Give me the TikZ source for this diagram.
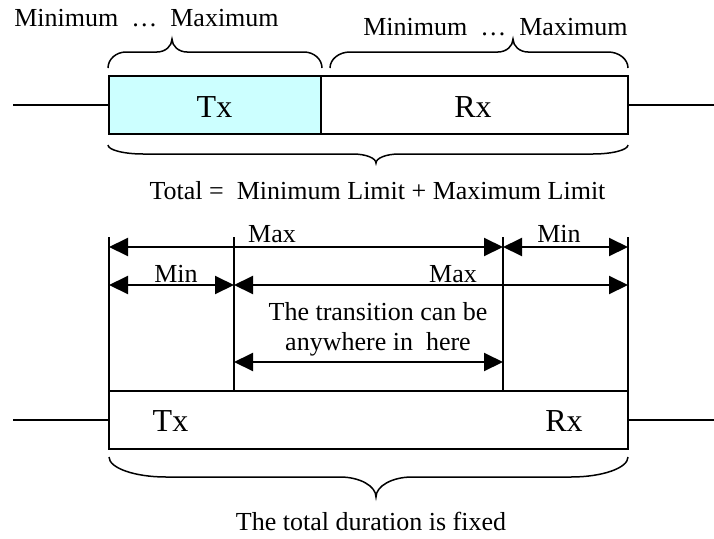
\documentclass[tikz,border=0pt]{standalone}
\usepackage{fontspec}
\setmainfont{Liberation Serif}
\usetikzlibrary{arrows.meta}
\definecolor{txcyan}{RGB}{204,255,255}

% Curly brace with rounded end hooks: xa, xtip, xb, y(ends), y(flat), y(tip), end radius, tip radius
\newcommand{\wordbrace}[8]{%
  \draw[bracestyle] (#1,#4)
    .. controls (#1,{#4+0.55*(#5-#4)}) and ({#1+0.45*#7},#5) .. ({#1+#7},#5)
    -- ({#2-#8},#5)
    .. controls ({#2-0.45*#8},#5) and (#2,{#6+0.55*(#5-#6)}) .. (#2,#6)
    .. controls (#2,{#6+0.55*(#5-#6)}) and ({#2+0.45*#8},#5) .. ({#2+#8},#5)
    -- ({#3-#7},#5)
    .. controls ({#3-0.45*#7},#5) and (#3,{#4+0.55*(#5-#4)}) .. (#3,#4);}

\tikzset{
  box/.style={draw, line width=2pt, inner sep=0pt, outer sep=0pt},
  wire/.style={line width=1.6pt},
  bracestyle/.style={line width=1.5pt},
  mark line/.style={line width=2pt},
  dim/.style={line width=2pt,
    {Triangle[length=19pt,width=18pt]}-{Triangle[length=19pt,width=18pt]}},
  lbl/.style={font=\fontsize{26pt}{30pt}\selectfont, inner sep=0pt, anchor=base},
  slot/.style={font=\fontsize{32pt}{36pt}\selectfont, inner sep=0pt, anchor=base},
}

\begin{document}
\begin{tikzpicture}[x=1pt,y=-1pt]
\useasboundingbox (0,0) rectangle (714,538);

% ---- upper frame: Tx / Rx slots ----
\node[box, fill=txcyan, minimum width=212pt, minimum height=58pt] (txbox) at (215,105) {};
\node[box, minimum width=307pt, minimum height=58pt] (rxbox) at (474.5,105) {};
\coordinate (inL) at (13,105);
\coordinate (inR) at (714,105);
\draw[wire] (inL) -- (txbox.west);
\draw[wire] (rxbox.east) -- (inR);

\node[slot] (txtop) at (214.5,117) {Tx};
\node[slot] (rxtop) at (473,117) {Rx};

\wordbrace{108}{172}{322}{68}{52}{39}{18}{15}
\wordbrace{330}{513}{628}{68}{52}{39}{20}{15}
\wordbrace{108}{376}{628}{145}{154}{163}{35}{23}

\node[lbl] (rangeL) at (146.5,26) {Minimum\ \ …\ \ Maximum};
\node[lbl] (rangeR) at (495.5,35) {Minimum\ \ …\ \ Maximum};
\node[lbl] (total) at (377.5,199) {Total =\ \ Minimum Limit + Maximum Limit};

% ---- lower frame: fixed duration ----
\node[box, minimum width=519pt, minimum height=58pt] (frame) at (368.5,420) {};
\coordinate (outL) at (13,420);
\coordinate (outR) at (714,420);
\draw[wire] (outL) -- (frame.west);
\draw[wire] (frame.east) -- (outR);

\node[slot] (txbot) at (170.5,431) {Tx};
\node[slot] (rxbot) at (564,431) {Rx};

% marker lines
\coordinate (m1) at (109,237);
\coordinate (m2) at (234,237);
\coordinate (m3) at (503,237);
\coordinate (m4) at (628,237);
\draw[mark line] (m1) -- (m1 |- frame.north);
\draw[mark line] (m2) -- (m2 |- frame.north);
\draw[mark line] (m3) -- (m3 |- frame.north);
\draw[mark line] (m4) -- (m4 |- frame.north);

% dimension arrows
\coordinate (a1) at (109,247);
\coordinate (b1) at (503,247);
\coordinate (c1) at (628,247);
\coordinate (a2) at (109,285);
\coordinate (b2) at (234,285);
\coordinate (c2) at (628,285);
\coordinate (a3) at (234,362);
\coordinate (b3) at (503,362);
\draw[dim] (a1) -- (b1);
\draw[dim] (b1) -- (c1);
\draw[dim] (a2) -- (b2);
\draw[dim] (b2) -- (c2);
\draw[dim] (a3) -- (b3);

\node[lbl] (maxA) at (272,242) {Max};
\node[lbl] (minA) at (559,242) {Min};
\node[lbl] (minB) at (176,282) {Min};
\node[lbl] (maxB) at (453,282) {Max};
\node[lbl] (trans1) at (378,320) {The transition can be};
\node[lbl] (trans2) at (378,350) {anywhere in\ \ here};

\wordbrace{109}{376}{628}{457}{477}{497}{57}{36}
\node[lbl] (fixed) at (371,530) {The total duration is fixed};
\end{tikzpicture}
\end{document}
